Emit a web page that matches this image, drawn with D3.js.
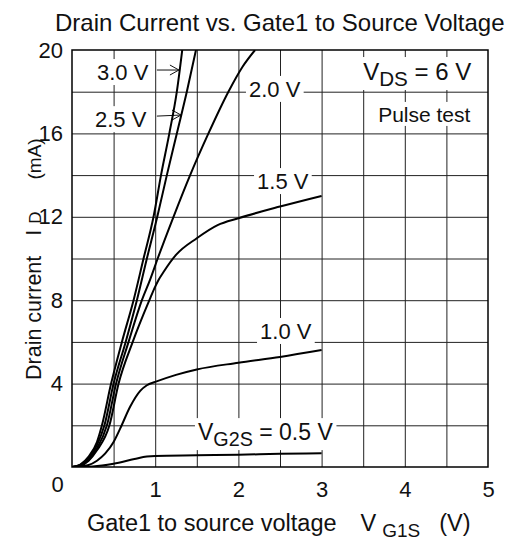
<!DOCTYPE html>
<html><head><meta charset="utf-8">
<script src="https://cdn.jsdelivr.net/npm/d3@7"></script>
<style>
html,body{margin:0;padding:0;background:#fff;}
svg{display:block;font-family:"Liberation Sans",Arial,Helvetica,sans-serif;}
</style></head>
<body><div id="chart"></div>
<script>
// ---- data (VG1S in V, ID in mA) ----
const xTickValues = [0, 1, 2, 3, 4, 5];
const yTickValues = [4, 8, 12, 16, 20];
const xGridValues = [0.5, 1, 1.5, 2, 2.5, 3, 3.5, 4, 4.5];
const yGridValues = [2, 4, 6, 8, 10, 12, 14, 16, 18];

const vg2sLevels = ["3.0", "2.5", "2.0", "1.5", "1.0", "0.5"];
const curve30 = [[0,0],[0.1,0.12],[0.2,0.5],[0.3,1.2],[0.36,2.0],[0.47,4.0],[0.6,6],[0.74,8],[0.86,10],[0.98,12],[1.07,14],[1.17,16],[1.26,18],[1.325,20]];
const curve25 = [[0,0],[0.1,0.1],[0.2,0.42],[0.3,1.05],[0.39,2],[0.5,4],[0.645,6],[0.78,8],[0.9,10],[1.025,12],[1.14,14],[1.26,16],[1.38,18],[1.49,20]];
const curve20 = [[0,0],[0.1,0.08],[0.2,0.35],[0.3,0.9],[0.42,2],[0.53,4],[0.68,6],[0.84,8],[0.94,9],[1.03,10],[1.22,12],[1.42,14],[1.64,16],[1.88,18],[2.05,19.2],[2.2,20]];
const curve15 = [[0,0],[0.1,0.06],[0.2,0.3],[0.3,0.8],[0.45,2],[0.56,4],[0.73,6],[0.93,8],[1.0,8.65],[1.04,8.97],[1.1,9.35],[1.25,10.17],[1.5,10.97],[1.75,11.6],[2.0,11.93],[2.5,12.49],[3.0,13.0]];
const curve10 = [[0,0],[0.2,0.1],[0.3,0.3],[0.4,0.65],[0.5,1.2],[0.58,1.85],[0.7,2.9],[0.82,3.65],[0.9,3.92],[1.0,4.08],[1.25,4.42],[1.5,4.68],[2.0,5.0],[2.5,5.28],[3.0,5.61]];
const curve05 = [[0,0],[0.25,0.03],[0.5,0.16],[0.75,0.38],[0.9,0.5],[1.0,0.53],[1.5,0.56],[2.0,0.59],[2.5,0.63],[3.0,0.66]];
const allCurves = [curve30, curve25, curve20, curve15, curve10, curve05];

// ---- layout ----
const W = 509, H = 542;
const m = {left: 72, top: 50, right: 21, bottom: 75};
const pw = W - m.left - m.right, ph = H - m.top - m.bottom;

const svg = d3.select("#chart").append("svg").attr("width", W).attr("height", H);
const x = d3.scaleLinear().domain([0, 5]).range([m.left, m.left + pw]);
const y = d3.scaleLinear().domain([0, 20]).range([m.top + ph, m.top]);

// title
svg.append("text").attr("x", 55).attr("y", 31).attr("font-size", 24)
  .attr("fill", "#111").text("Drain Current vs. Gate1 to Source Voltage");

// grid via axes
svg.append("g").attr("transform", `translate(0,${m.top + ph})`)
  .call(d3.axisBottom(x).tickValues(xGridValues).tickSize(-ph).tickFormat(""))
  .call(g => g.select(".domain").remove())
  .call(g => g.selectAll("line").attr("stroke", "#222").attr("stroke-width", 1));
svg.append("g").attr("transform", `translate(${m.left},0)`)
  .call(d3.axisLeft(y).tickValues(yGridValues).tickSize(-pw).tickFormat(""))
  .call(g => g.select(".domain").remove())
  .call(g => g.selectAll("line").attr("stroke", "#222").attr("stroke-width", 1));

// tick labels via axes
const xAx = svg.append("g").attr("transform", `translate(0,${m.top + ph})`)
  .call(d3.axisBottom(x).tickValues(xTickValues).tickSize(0).tickPadding(14).tickFormat(d3.format("d")));
xAx.select(".domain").remove();
xAx.selectAll("text").attr("font-size", 22).attr("font-family", null).attr("fill", "#111");
xAx.selectAll(".tick").filter(d => d === 0).select("text").attr("dx", -15).attr("dy", "0.5em");
const yAx = svg.append("g").attr("transform", `translate(${m.left},0)`)
  .call(d3.axisLeft(y).tickValues(yTickValues).tickSize(0).tickPadding(9).tickFormat(d3.format("d")));
yAx.select(".domain").remove();
yAx.selectAll("text").attr("font-size", 22).attr("font-family", null).attr("fill", "#111");

// labels with white background
const labelLayer = svg.append("g");
function label(xv, yv, parts, size) {
  const t = labelLayer.append("text").attr("x", x(xv)).attr("y", y(yv))
    .attr("font-size", size).attr("fill", "#111");
  parts.forEach(p => {
    const ts = t.append("tspan").text(p.t);
    if (p.sub) ts.attr("font-size", size * 0.86).attr("dy", 6);
    if (p.up) ts.attr("dy", -6);
  });
  const b = t.node().getBBox();
  labelLayer.insert("rect", "text").attr("x", b.x - 3).attr("y", b.y - 1)
    .attr("width", b.width + 6).attr("height", b.height + 1).attr("fill", "#fff");
  return t;
}
label(0.30, 18.56, [{t: "3.0 V"}], 22);
label(0.276, 16.3, [{t: "2.5 V"}], 22);
label(2.127, 17.75, [{t: "2.0 V"}], 22);
label(2.224, 13.33, [{t: "1.5 V"}], 22);
label(2.26, 6.14, [{t: "1.0 V"}], 22);
label(1.514, 1.29, [{t: "V"}, {t: "G2S", sub: true}, {t: " = 0.5 V", up: true}], 23);
label(3.5, 18.56, [{t: "V"}, {t: "DS", sub: true}, {t: " = 6 V", up: true}], 24);
label(3.68, 16.55, [{t: "Pulse test"}], 21);

// arrows
function arrow(x0, y0, x1, y1) {
  const g = svg.append("g").attr("stroke", "#111").attr("fill", "none").attr("stroke-width", 1);
  g.append("line").attr("x1", x(x0)).attr("y1", y(y0)).attr("x2", x(x1)).attr("y2", y(y1));
  const ex = x(x1), ey = y(y1);
  g.append("path").attr("d", `M${ex - 9},${ey - 5} L${ex},${ey} L${ex - 9},${ey + 5}`);
}
arrow(1.02, 19.04, 1.285, 19.04);
arrow(1.02, 16.83, 1.31, 16.88);

// curves
svg.append("clipPath").attr("id", "clip").append("rect")
  .attr("x", m.left).attr("y", m.top).attr("width", pw).attr("height", ph);
const line = d3.line().x(d => x(d[0])).y(d => y(d[1])).curve(d3.curveMonotoneX);
svg.append("g").attr("clip-path", "url(#clip)").selectAll("path").data(allCurves).join("path")
  .attr("d", line).attr("fill", "none").attr("stroke", "#000").attr("stroke-width", 2);

// frame
svg.append("rect").attr("x", m.left).attr("y", m.top).attr("width", pw).attr("height", ph)
  .attr("fill", "none").attr("stroke", "#000").attr("stroke-width", 1.5);

// x axis title
const xt = svg.append("text").attr("x", 87).attr("y", 531).attr("font-size", 23.5).attr("fill", "#111");
xt.append("tspan").text("Gate1 to source voltage");
xt.append("tspan").attr("dx", 24).text("V");
xt.append("tspan").attr("font-size", 19).attr("dx", 6).attr("dy", 6).text("G1S");
xt.append("tspan").attr("dx", 19).attr("dy", -6).text("(V)");

// y axis title
const yt = svg.append("text").attr("transform", "translate(41,380) rotate(-90)")
  .attr("font-size", 21.5).attr("fill", "#111");
yt.append("tspan").text("Drain current");
yt.append("tspan").attr("dx", 20).text("I");
yt.append("tspan").attr("font-size", 17).attr("dx", 6).text("D");
yt.append("tspan").attr("font-size", 19).attr("dx", 32).text("(mA)");
</script></body></html>
